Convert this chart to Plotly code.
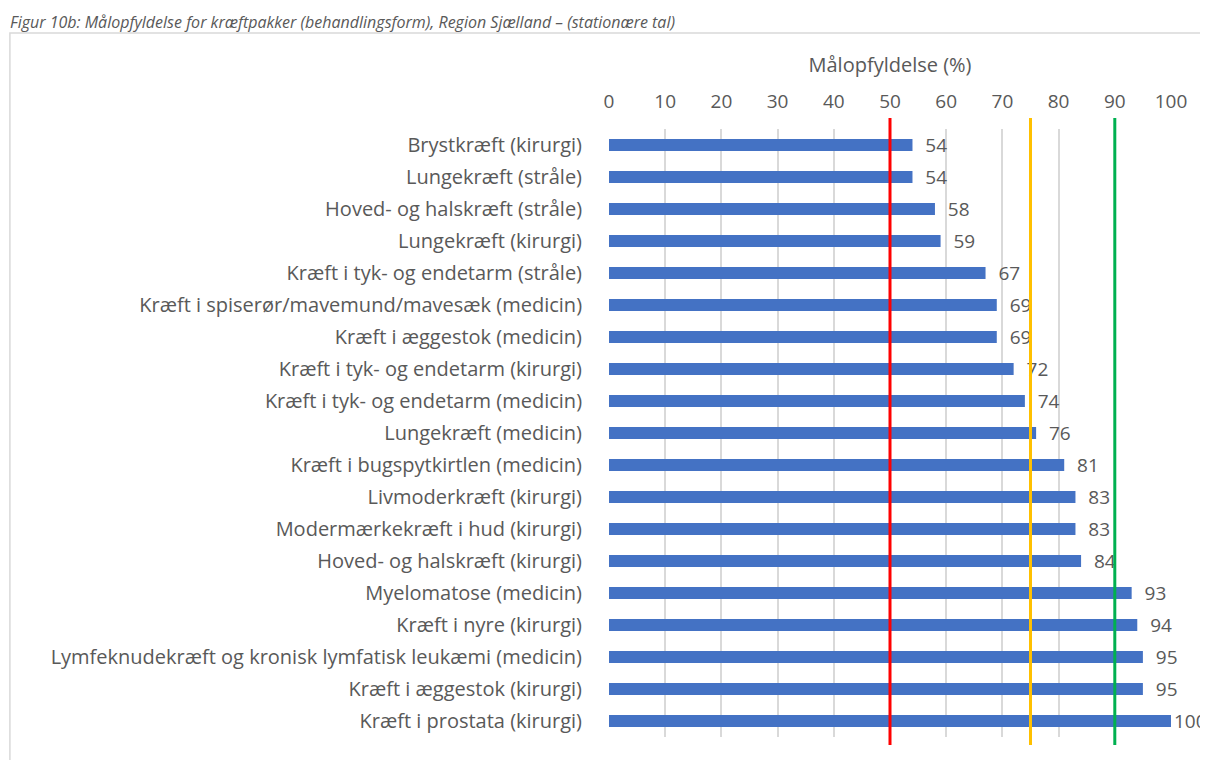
import plotly.graph_objects as go

kategorier = ["Brystkræft (kirurgi)", "Lungekræft (stråle)", "Hoved- og halskræft (stråle)",
              "Lungekræft (kirurgi)", "Kræft i tyk- og endetarm (stråle)",
              "Kræft i spiserør/mavemund/mavesæk (medicin)", "Kræft i æggestok (medicin)",
              "Kræft i tyk- og endetarm (kirurgi)", "Kræft i tyk- og endetarm (medicin)",
              "Lungekræft (medicin)", "Kræft i bugspytkirtlen (medicin)", "Livmoderkræft (kirurgi)",
              "Modermærkekræft i hud (kirurgi)", "Hoved- og halskræft (kirurgi)",
              "Myelomatose (medicin)", "Kræft i nyre (kirurgi)",
              "Lymfeknudekræft og kronisk lymfatisk leukæmi (medicin)", "Kræft i æggestok (kirurgi)",
              "Kræft i prostata (kirurgi)"]
vaerdier = [54, 54, 58, 59, 67, 69, 69, 72, 74, 76, 81, 83, 83, 84, 93, 94, 95, 95, 100]
maal = [50, 75, 90]
maal_farver = ["#ff0000", "#ffc000", "#00b050"]
titel = "Figur 10b: Målopfyldelse for kræftpakker (behandlingsform), Region Sjælland – (stationære tal)"

font = "Open Sans"
grey = "#595959"

# etiketter: lidt luft efter søjlen, undtagen ved 100 (ellers ryger den ud af billedet)
etiketter = [("  " if v < 100 else "") + str(v) for v in vaerdier]

fig = go.Figure()
fig.add_trace(go.Bar(
    y=kategorier, x=vaerdier, orientation="h", width=0.37,
    marker=dict(color="#4472c4", line=dict(width=0)),
    text=etiketter, textposition="outside", cliponaxis=False,
    constraintext="none",
    textfont=dict(family=font, size=19, color=grey),
))

# rammen om diagrammet
fig.add_shape(type="rect", xref="paper", yref="paper", x0=-1.066, x1=1.2, y0=-0.2, y1=1.158,
              line=dict(color="#d9d9d9", width=1.5), layer="below")

for m, c in zip(maal, maal_farver):
    fig.add_shape(type="line", xref="x", yref="paper", x0=m, x1=m, y0=-0.013, y1=1.018,
                  line=dict(color=c, width=3))

fig.add_annotation(text="<i>" + titel + "</i>", xref="paper", yref="paper", x=-1.07, xanchor="left",
                   y=1.198, yanchor="top", showarrow=False,
                   font=dict(family=font, size=16, color=grey))

fig.update_layout(
    width=1208, height=760, margin=dict(l=601, r=45, t=121, b=31),
    paper_bgcolor="white", plot_bgcolor="white", showlegend=False,
    font=dict(family=font, size=19, color=grey),
    xaxis=dict(side="top", range=[0, 100], dtick=10, showgrid=True, gridcolor="#d9d9d9", gridwidth=1.5,
               zeroline=False, showline=False, ticks="", ticklabelstandoff=16,
               title=dict(text="Målopfyldelse (%)", font=dict(size=20, color=grey), standoff=10),
               tickfont=dict(size=19, color=grey)),
    yaxis=dict(autorange="reversed", showgrid=False, ticks="", showline=False,
               tickfont=dict(size=20, color=grey), ticksuffix="     "),
)

fig.write_html("out.html")
